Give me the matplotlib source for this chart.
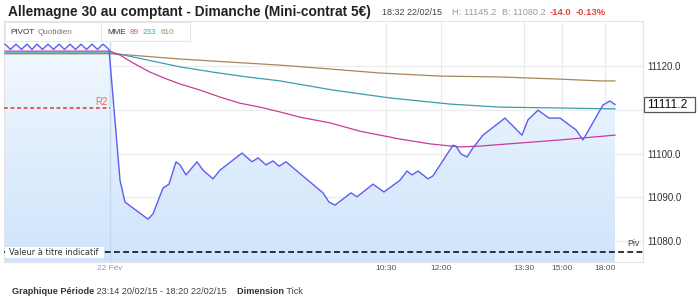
import numpy as np
import matplotlib
matplotlib.use("Agg")
import matplotlib.pyplot as plt
from matplotlib.colors import LinearSegmentedColormap
from matplotlib.patches import Rectangle

plt.rcParams['font.family'] = ['Liberation Sans', 'DejaVu Sans']

# ---------------- data ----------------
# x positions are tick-axis positions (tick chart, not linear time)
price_x = [5, 10.5, 16, 21.5, 27, 32, 37, 42.5, 48, 53.5, 59, 64.5, 70, 75.5, 81, 86.5, 92, 97.5, 103, 109,
           120, 125, 148, 153, 163, 169, 176, 180, 186, 197, 203, 213, 220, 242, 252, 258, 266, 273, 279, 286,
           323, 329, 335, 351, 357, 373, 384, 400, 407, 412, 418, 428, 433, 453, 456, 461, 467, 473, 483, 505,
           522, 528, 538, 549, 560, 576, 583, 603, 610, 615]
price_y = [11125.0, 11123.8, 11125.0, 11123.8, 11125.0, 11123.8, 11125.0, 11123.8, 11125.0, 11123.8,
           11125.0, 11123.8, 11125.0, 11123.8, 11125.0, 11123.8, 11125.0, 11123.8, 11125.0, 11123.8,
           11093.9, 11088.9, 11085.0, 11086.2, 11092.1, 11093.0, 11098.1, 11097.4, 11095.1, 11098.1,
           11096.2, 11094.2, 11096.2, 11100.1, 11098.1, 11099.0, 11097.4, 11098.3, 11097.1, 11098.1,
           11091.0, 11088.9, 11088.2, 11091.0, 11090.1, 11093.0, 11091.2, 11093.9, 11096.0, 11095.1,
           11096.0, 11094.2, 11094.9, 11101.9, 11101.7, 11099.9, 11099.2, 11101.3, 11104.2, 11108.1,
           11104.2, 11107.7, 11109.9, 11108.1, 11108.1, 11105.4, 11103.1, 11111.1, 11112.0, 11111.2]

mme89_x = [5, 110, 120, 133, 150, 167, 180, 200, 220, 240, 260, 280, 300, 330, 360, 400, 430, 460, 480, 520, 560, 615]
mme89_y = [11123.4, 11123.4, 11122.5, 11120.7, 11118.6, 11117.0, 11115.9, 11114.5, 11112.9, 11111.5, 11110.6,
           11109.5, 11108.3, 11107.0, 11105.1, 11103.3, 11102.2, 11101.5, 11101.7, 11102.4, 11103.1, 11104.2]

mme233_x = [5, 110, 120, 147, 180, 213, 247, 280, 333, 390, 450, 500, 560, 615]
mme233_y = [11123.0, 11123.0, 11122.7, 11121.4, 11119.8, 11118.6, 11117.5, 11116.6, 11114.5, 11112.7,
            11111.3, 11110.6, 11110.4, 11110.2]

mme610_x = [5, 110, 130, 180, 230, 280, 320, 380, 440, 500, 560, 600, 615]
mme610_y = [11122.8, 11122.8, 11122.5, 11121.6, 11120.9, 11120.2, 11119.5, 11118.4, 11117.7, 11117.5,
            11117.0, 11116.6, 11116.6]

r2_level = 11110.4
piv_level = 11077.5
last_price = 11111.2

xtick_pos = [110, 386, 441, 524, 562, 605]
xtick_labels = ['22 Fév', '10:30', '12:00', '13:30', '15:00', '18:00']
ytick_vals = [11080.0, 11090.0, 11100.0, 11110.0, 11120.0]

title = "Allemagne 30 au comptant - Dimanche (Mini-contrat 5€)"

# ---------------- figure ----------------
W, H = 700, 299
fig = plt.figure(figsize=(W / 100, H / 100), dpi=100)
fig.patch.set_facecolor('white')

ax_l, ax_r, ax_t, ax_b = 4, 643, 21, 262
ax = fig.add_axes([ax_l / W, 1 - ax_b / H, (ax_r - ax_l) / W, (ax_b - ax_t) / H])
XMIN, XMAX = 4, 643
YMIN, YMAX = 11075.2, 11130.29

for sp in ax.spines.values():
    sp.set_color('#e4e4e4')
    sp.set_linewidth(0.8)

# grid
for v in ytick_vals:
    ax.axhline(v, color='#ebebeb', lw=0.8, zorder=1)
for xp in xtick_pos[1:]:
    ax.axvline(xp, color='#ebebeb', lw=0.8, zorder=1)

# gradient fill under price
poly = ax.fill_between(price_x, price_y, YMIN, color='none', lw=0)
cmap = LinearSegmentedColormap.from_list('g', ['#cfe4fb', '#f5faff'])
grad = np.linspace(0, 1, 256).reshape(-1, 1)
im = ax.imshow(grad, extent=[XMIN, XMAX, YMIN, YMAX], origin='lower', aspect='auto',
               cmap=cmap, zorder=1.5)
im.set_clip_path(poly.get_paths()[0], transform=ax.transData)

# day separator
ax.plot([110, 110], [YMIN, 11125.7], color='#c4d8f0', lw=1.0, zorder=2)

# moving averages
ax.plot(mme610_x, mme610_y, color='#a8865a', lw=0.9, zorder=3)
ax.plot(mme233_x, mme233_y, color='#3a9eac', lw=0.9, zorder=3)
ax.plot(mme89_x, mme89_y, color='#c83c98', lw=0.9, zorder=3)

# price
ax.plot(price_x, price_y, color='#5d5df2', lw=1.0, zorder=4)

# R2 and pivot
ax.plot([XMIN, 110], [r2_level, r2_level], color='#e8322e', lw=1.1, ls=(0, (2.5, 1.8)), zorder=4)
ax.plot([XMIN, XMAX], [piv_level, piv_level], color='#111111', lw=1.2, ls=(0, (3.5, 2.0)), zorder=4)

ax.set_xlim(XMIN, XMAX)
ax.set_ylim(YMIN, YMAX)
ax.set_xticks(xtick_pos)
ax.set_xticklabels(xtick_labels)
ax.tick_params(axis='x', length=0, labelsize=6, labelcolor='#555555', pad=2)
ax.get_xticklabels()[0].set_color('#8a9ad8')
ax.yaxis.tick_right()
ax.set_yticks(ytick_vals)
# the 11110.0 label is hidden behind the last-price box in the reference
ax.set_yticklabels(["" if abs(v - 11110.0) < 1e-6 else f"{v:.1f}" for v in ytick_vals])
ax.tick_params(axis='y', length=0, labelsize=7, labelcolor='#333333', pad=3)

# ---------------- overlay in pixel coordinates ----------------
ov = fig.add_axes([0, 0, 1, 1], zorder=10)
ov.set_xlim(0, W)
ov.set_ylim(H, 0)
ov.axis('off')
ov.patch.set_alpha(0)

renderer = fig.canvas.get_renderer()


def fit(t, width):
    w = t.get_window_extent(renderer).width
    t.set_fontsize(t.get_fontsize() * width / w)
    return t


# title row
fit(ov.text(8, 12, title, fontsize=9, fontweight='bold', color='#222222', va='center', ha='left'), 364)
fit(ov.text(382, 12.5, "18:32 22/02/15", fontsize=6, color='#444444', va='center'), 61)
fit(ov.text(452, 12.5, "H: 11145.2", fontsize=6, color='#9a9a9a', va='center'), 45)
fit(ov.text(502, 12.5, "B: 11080.2", fontsize=6, color='#9a9a9a', va='center'), 44)
t14 = fit(ov.text(550, 12.5, "-14.0", fontsize=6, color='#e5453c', fontweight='bold', va='center'), 22)
ov.text(576, 12.5, "-0.13%", fontsize=t14.get_fontsize(), color='#e5453c', fontweight='bold', va='center')

# header row inside chart
ov.add_patch(Rectangle((4.5, 21.5), 185, 19.5, facecolor='white', edgecolor='#e6e6e6', lw=0.8))
ov.plot([101, 101], [21.5, 41], color='#e6e6e6', lw=0.8)
hs = 5.9
ov.text(10, 32, "PIVOT", fontsize=hs, color='#333333', va='center')
ov.text(38, 32, "Quotidien", fontsize=hs, color='#777777', va='center')
ov.text(107, 32, "MME", fontsize=hs, color='#333333', va='center')
ov.text(130, 32, "89", fontsize=hs, color='#d04aa0', va='center')
ov.text(143, 32, "233", fontsize=hs, color='#3aa8bb', va='center')
ov.text(161, 32, "610", fontsize=hs, color='#a8845a', va='center')

# R2 label and Piv label
ov.text(108, 102, "R2", fontsize=7, color='#f06a62', va='center', ha='right')
ov.text(627, 244, "Piv", fontsize=6.3, color='#444444', va='center', ha='left')

# last price box
ov.add_patch(Rectangle((643.5, 97), 51, 15, facecolor='white', edgecolor='#555555', lw=0.9))
fit(ov.text(647, 104.8, f"{last_price:.1f}", fontsize=8, color='#111111', va='center'), 40)

# indicative value box
ov.add_patch(Rectangle((5, 247), 99, 11, facecolor='white', edgecolor='none'))
t = ov.text(9, 252.5, "Valeur à titre indicatif", fontsize=5.5, color='#333333', va='center',
            family=['DejaVu Sans'])
fit(t, 90)

# footer
fx = 12
for s, bold, col in [("Graphique Période", True, '#333333'),
                     (" 23:14 20/02/15 - 18:20 22/02/15", False, '#444444'),
                     ("    Dimension", True, '#333333'),
                     (" Tick", False, '#444444')]:
    tt = ov.text(fx, 292, s, fontsize=6.6, fontweight='bold' if bold else 'normal', color=col, va='center')
    fx += tt.get_window_extent(renderer).width

fig.savefig('out.png', dpi=100, facecolor='white')
